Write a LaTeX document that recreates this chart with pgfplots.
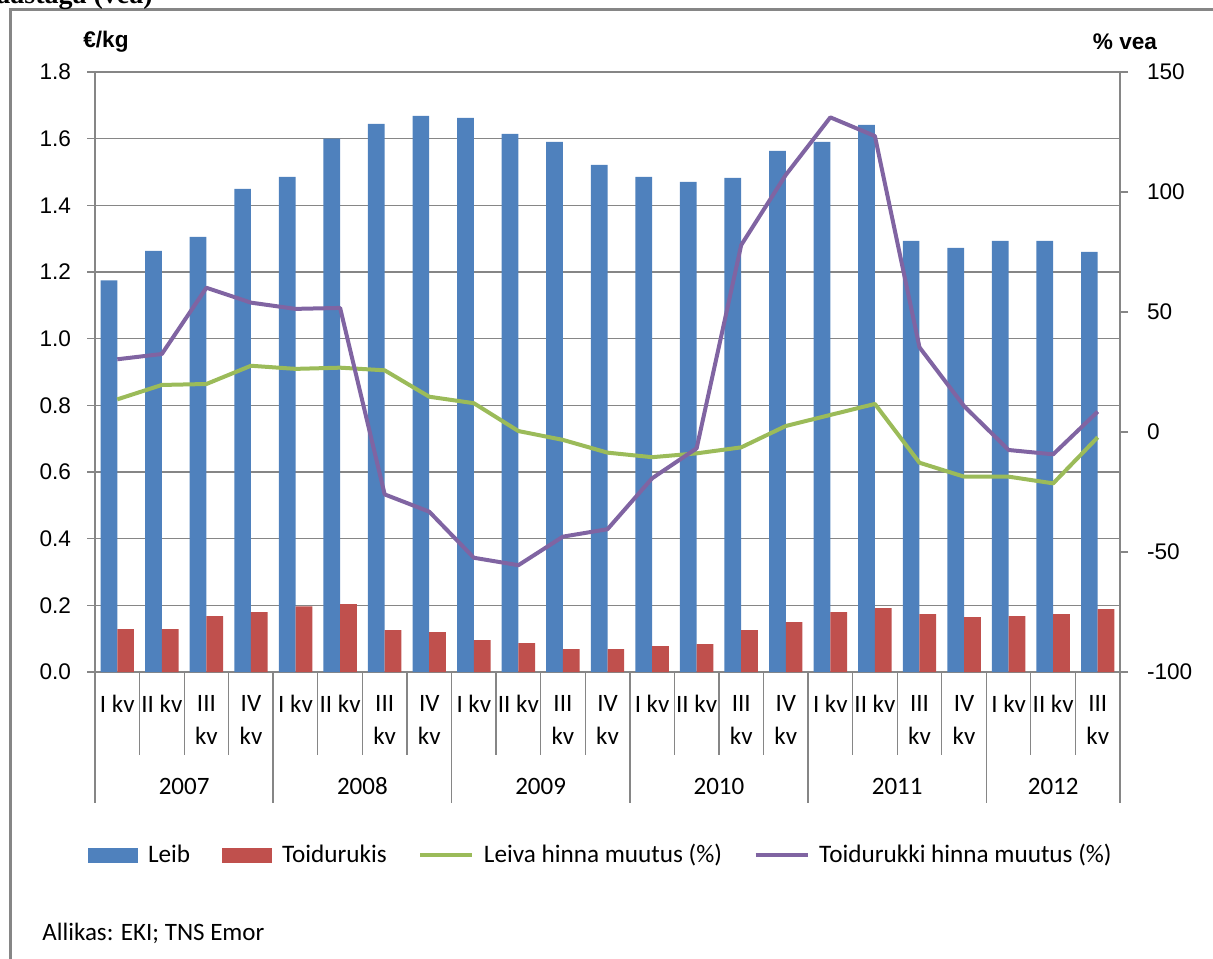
\documentclass[border=0pt]{standalone}
\usepackage{pgfplots}
\usepackage{pgfplotstable}
\pgfplotsset{compat=1.18}
\usepackage{fontspec}
\setmainfont{Liberation Sans}
\newfontfamily\lsans{Liberation Sans}
\newfontfamily\carl{Carlito}
\newfontfamily\lserif{Liberation Serif}
\definecolor{cLeib}{HTML}{4F81BD}
\definecolor{cToid}{HTML}{C0504D}
\definecolor{cLeiva}{HTML}{9BBB59}
\definecolor{cToidP}{HTML}{8064A2}
\definecolor{axgray}{HTML}{868686}
\newcommand\tickf{\lsans\fontsize{11.3}{13}\selectfont}
\newcommand\catf{\carl\fontsize{12.5}{16.3}\selectfont}

\pgfplotstableread{
q leib toid leiva toidp
0  1.175 0.129 13.6 30.3
1  1.263 0.129 19.6 32.5
2  1.305 0.168 20.0 60.1
3  1.449 0.180 27.6 53.9
4  1.485 0.197 26.3 51.3
5  1.600 0.204 26.8 51.7
6  1.644 0.126 25.7 -26.0
7  1.668 0.120 14.7 -33.2
8  1.662 0.096 12.0 -52.4
9  1.614 0.087 0.4 -55.5
10 1.590 0.069 -3.3 -43.6
11 1.521 0.069 -8.6 -40.5
12 1.485 0.078 -10.5 -19.3
13 1.470 0.084 -8.9 -6.8
14 1.482 0.126 -6.4 77.9
15 1.563 0.150 2.5 107.1
16 1.590 0.180 7.1 131.1
17 1.641 0.192 11.7 123.3
18 1.293 0.174 -12.8 35.3
19 1.272 0.165 -18.6 10.8
20 1.293 0.168 -18.6 -7.5
21 1.293 0.174 -21.4 -9.3
22 1.260 0.189 -2.2 8.5
}\data

\begin{document}
\begin{tikzpicture}
\useasboundingbox (0,0) rectangle (606.5pt,479pt);
% outer frame
\draw[axgray, line width=1.5pt] (5pt,-2pt) -- (5pt,474pt) -- (610pt,474pt);
\node[anchor=base west, inner sep=0pt, font=\lserif\bfseries\fontsize{14}{16}\selectfont] at (-2pt,477pt) {aastaga (vea)};
\node[font=\lsans\bfseries\fontsize{11.3}{13}\selectfont] at (53pt,458pt) {€/kg};
\node[font=\lsans\bfseries\fontsize{11.3}{13}\selectfont] at (562.5pt,458pt) {\% vea};
\node[anchor=west, inner sep=0pt, font=\carl\fontsize{12.5}{15}\selectfont] at (21pt,12.5pt) {Allikas: EKI; TNS Emor};

\begin{axis}[
  at={(47.5pt,143pt)}, anchor=south west,
  scale only axis, width=512.5pt, height=300pt,
  xmin=-0.5, xmax=22.5, ymin=0, ymax=1.8,
  clip=false,
  axis y line*=left, axis x line*=bottom,
  axis line style={axgray, line width=0.6pt, -},
  ytick={0,0.2,0.4,0.6,0.8,1.0,1.2,1.4,1.6,1.8},
  yticklabel style={font=\tickf, xshift=-4.5pt, /pgf/number format/.cd, fixed, fixed zerofill, precision=1, assume math mode=true},
  ymajorgrids, grid style={axgray, line width=0.75pt},
  tick align=outside, major tick length=4pt,
  ytick style={axgray, line width=0.6pt},
  xtick={0,...,22}, xtick style={draw=none},
  xticklabels={{I kv},{II kv},{III\\kv},{IV\\kv},{I kv},{II kv},{III\\kv},{IV\\kv},{I kv},{II kv},{III\\kv},{IV\\kv},{I kv},{II kv},{III\\kv},{IV\\kv},{I kv},{II kv},{III\\kv},{IV\\kv},{I kv},{II kv},{III\\kv}},
  xticklabel style={font=\catf, align=center, anchor=north, inner sep=0pt, yshift=-7.5pt},
  ybar=0pt, bar width=0.375,
]
\addplot[fill=cLeib, draw=none] table[x=q, y=leib]{\data};
\addplot[fill=cToid, draw=none] table[x=q, y=toid]{\data};
\pgfplotsinvokeforeach{-0.5,0.5,...,22.5}{
  \draw[axgray, line width=0.6pt] (axis cs:#1,0) -- ++(0pt,-41.5pt);
}
\pgfplotsinvokeforeach{-0.5,3.5,7.5,11.5,15.5,19.5,22.5}{
  \draw[axgray, line width=0.8pt] (axis cs:#1,0) -- ++(0pt,-65.5pt);
}
\node[font=\catf, yshift=-57pt] at (axis cs:1.5,0) {2007};
\node[font=\catf, yshift=-57pt] at (axis cs:5.5,0) {2008};
\node[font=\catf, yshift=-57pt] at (axis cs:9.5,0) {2009};
\node[font=\catf, yshift=-57pt] at (axis cs:13.5,0) {2010};
\node[font=\catf, yshift=-57pt] at (axis cs:17.5,0) {2011};
\node[font=\catf, yshift=-57pt] at (axis cs:21,0) {2012};
\end{axis}

\begin{axis}[
  at={(47.5pt,143pt)}, anchor=south west,
  scale only axis, width=512.5pt, height=300pt,
  xmin=-0.5, xmax=22.5, ymin=-100, ymax=150,
  axis y line*=right, axis x line=none,
  axis line style={axgray, line width=0.6pt, -},
  ytick={-100,-50,0,50,100,150},
  yticklabel style={font=\tickf, xshift=6pt, /pgf/number format/assume math mode=true},
  tick align=outside, major tick length=4pt,
  ytick style={axgray, line width=0.6pt},
  legend columns=4,
  legend cell align=left,
  legend style={draw=none, fill=none, font=\carl\fontsize{12.6}{15}\selectfont,
    at={(0.4946,-0.305)}, anchor=center,
    /tikz/every odd column/.append style={column sep=3pt},
    /tikz/every even column/.append style={column sep=14pt}},
]
\addlegendimage{legend image code/.code={\fill[cLeib] (0pt,-3.5pt) rectangle (24.5pt,3.5pt);}}
\addlegendentry{Leib}
\addlegendimage{legend image code/.code={\fill[cToid] (0pt,-3.5pt) rectangle (24.5pt,3.5pt);}}
\addlegendentry{Toidurukis}
\addplot[cLeiva, line width=2pt, mark=none, line join=round,
  legend image code/.code={\draw[cLeiva, line width=1.6pt] (0pt,0pt) -- (26pt,0pt);}] table[x=q, y=leiva]{\data};
\addlegendentry{Leiva hinna muutus (\%)}
\addplot[cToidP, line width=2pt, mark=none, line join=round,
  legend image code/.code={\draw[cToidP, line width=1.6pt] (0pt,0pt) -- (26pt,0pt);}] table[x=q, y=toidp]{\data};
\addlegendentry{Toidurukki hinna muutus (\%)}
\end{axis}
\end{tikzpicture}
\end{document}
